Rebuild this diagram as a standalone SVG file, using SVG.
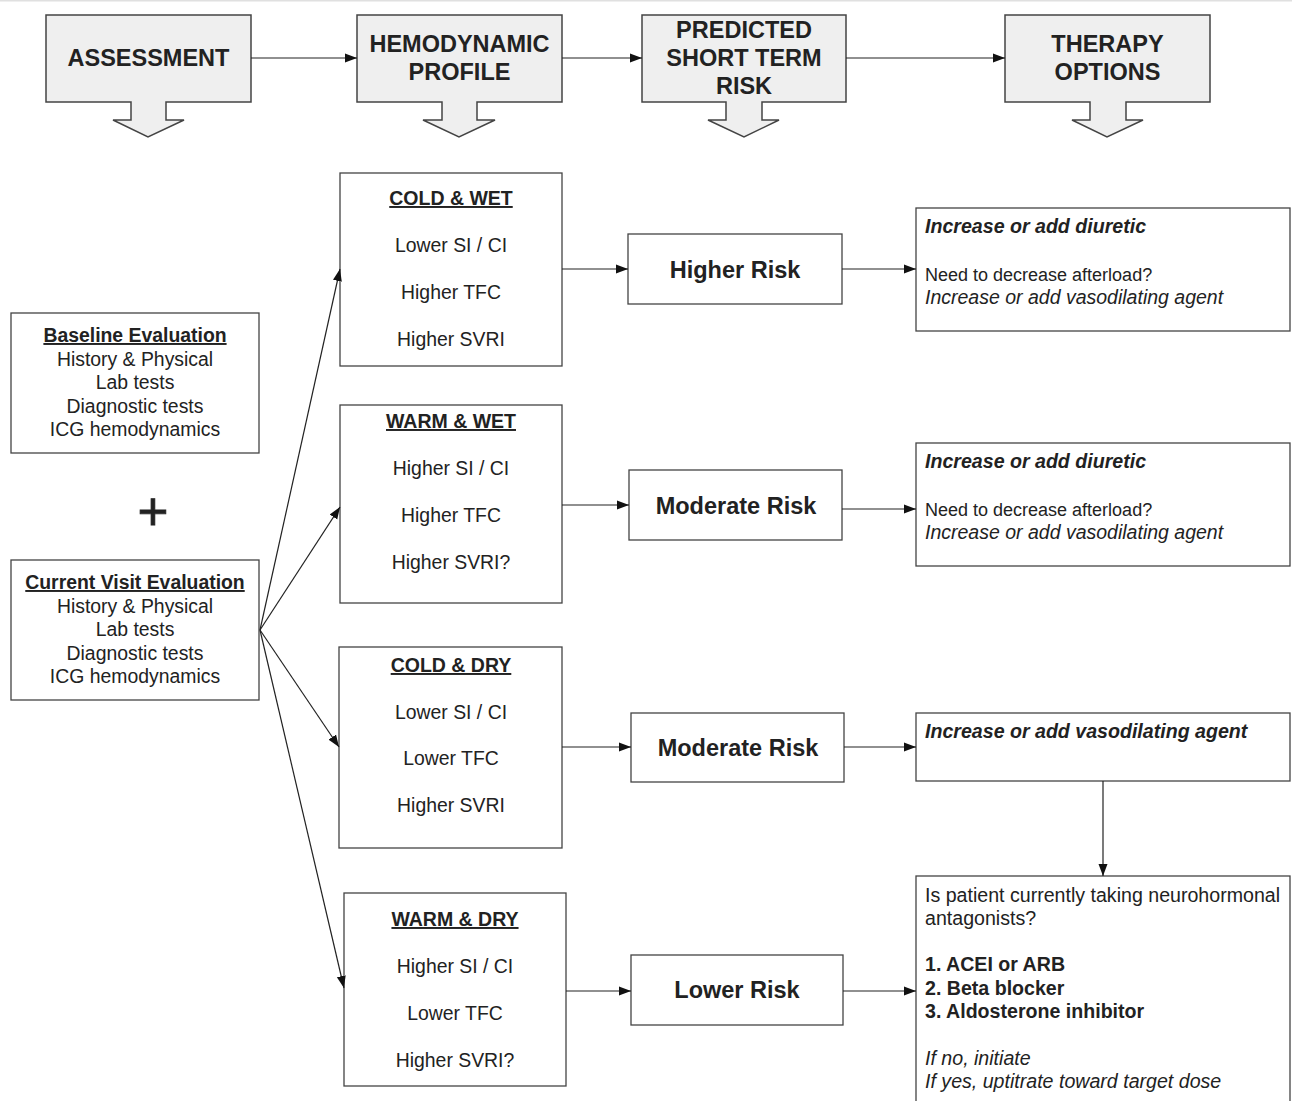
<svg xmlns="http://www.w3.org/2000/svg" width="1292" height="1101" viewBox="0 0 1292 1101">
<defs>
<style>
text{font-family:"Liberation Sans",Arial,sans-serif;fill:#222;}
.hdr{fill:#efefef;stroke:#444;stroke-width:1.5;}
.box{fill:#fff;stroke:#444;stroke-width:1.3;}
.ht{font-size:23.5px;font-weight:bold;text-anchor:middle;}
.pt{font-size:19.4px;text-anchor:middle;}
.pb{font-size:19.5px;font-weight:bold;text-anchor:middle;text-decoration:underline;}
.rt{font-size:23.5px;font-weight:bold;text-anchor:middle;}
.tt{font-size:18px;}
.t4{font-size:19.6px;}
.bi{font-size:19.6px;font-weight:bold;font-style:italic;}
.it{font-size:19.5px;font-style:italic;}
.b{font-weight:bold;}
.i4{font-style:italic;}
.lt{font-size:19.4px;text-anchor:middle;}
.con{stroke:#222;stroke-width:1.2;fill:none;marker-end:url(#ah);}
</style>
<marker id="ah" viewBox="0 0 12 10" refX="12" refY="5" markerWidth="12" markerHeight="10" markerUnits="userSpaceOnUse" orient="auto">
<path d="M0,0.5 L12,5 L0,9.5 Z" fill="#111"/>
</marker>
</defs>
<rect x="0" y="0" width="1292" height="1101" fill="#fff"/>
<rect x="0" y="0" width="1292" height="1.5" fill="#e0e0e0"/>

<g id="hdr-assessment">
<path class="hdr" d="M46,15 H251 V102 H166 V120 H184 L148,137 L113,120 H131 V102 H46 Z"/>
<text class="ht" x="148.5" y="66">ASSESSMENT</text>
</g>
<g id="hdr-hemodynamic">
<path class="hdr" d="M357,15 H562 V102 H477 V120 H495 L459,137 L423,120 H442 V102 H357 Z"/>
<text class="ht" x="459.5" y="52">HEMODYNAMIC</text>
<text class="ht" x="459.5" y="80">PROFILE</text>
</g>
<g id="hdr-risk">
<path class="hdr" d="M642,15 H846 V102 H762 V120 H779 L744,137 L708,120 H726 V102 H642 Z"/>
<text class="ht" x="744" y="38">PREDICTED</text>
<text class="ht" x="744" y="66">SHORT TERM</text>
<text class="ht" x="744" y="94">RISK</text>
</g>
<g id="hdr-therapy">
<path class="hdr" d="M1005,15 H1210 V102 H1126 V120 H1143 L1107,137 L1072,120 H1090 V102 H1005 Z"/>
<text class="ht" x="1107.5" y="52">THERAPY</text>
<text class="ht" x="1107.5" y="80">OPTIONS</text>
</g>

<g id="baseline">
<rect class="box" x="11" y="313" width="248" height="140"/>
<text class="lt" x="135" y="342"><tspan font-weight="bold" text-decoration="underline">Baseline Evaluation</tspan></text>
<text class="lt" x="135" y="366">History &amp; Physical</text>
<text class="lt" x="135" y="389">Lab tests</text>
<text class="lt" x="135" y="413">Diagnostic tests</text>
<text class="lt" x="135" y="436">ICG hemodynamics</text>
</g>
<g id="plus">
<text x="153" y="530" font-size="53" text-anchor="middle" stroke="#222" stroke-width="0.8">+</text>
</g>
<g id="current">
<rect class="box" x="11" y="560" width="248" height="140"/>
<text class="lt" x="135" y="589"><tspan font-weight="bold" text-decoration="underline">Current Visit Evaluation</tspan></text>
<text class="lt" x="135" y="613">History &amp; Physical</text>
<text class="lt" x="135" y="636">Lab tests</text>
<text class="lt" x="135" y="660">Diagnostic tests</text>
<text class="lt" x="135" y="683">ICG hemodynamics</text>
</g>

<g id="cold-wet">
<rect class="box" x="340" y="173" width="222" height="193"/>
<text class="pb" x="451" y="205">COLD &amp; WET</text>
<text class="pt" x="451" y="252">Lower SI / CI</text>
<text class="pt" x="451" y="299">Higher TFC</text>
<text class="pt" x="451" y="346">Higher SVRI</text>
</g>
<g id="warm-wet">
<rect class="box" x="340" y="405" width="222" height="198"/>
<text class="pb" x="451" y="428">WARM &amp; WET</text>
<text class="pt" x="451" y="475">Higher SI / CI</text>
<text class="pt" x="451" y="522">Higher TFC</text>
<text class="pt" x="451" y="569">Higher SVRI?</text>
</g>
<g id="cold-dry">
<rect class="box" x="339" y="647" width="223" height="201"/>
<text class="pb" x="451" y="672">COLD &amp; DRY</text>
<text class="pt" x="451" y="719">Lower SI / CI</text>
<text class="pt" x="451" y="765">Lower TFC</text>
<text class="pt" x="451" y="812">Higher SVRI</text>
</g>
<g id="warm-dry">
<rect class="box" x="344" y="893" width="222" height="193"/>
<text class="pb" x="455" y="926">WARM &amp; DRY</text>
<text class="pt" x="455" y="973">Higher SI / CI</text>
<text class="pt" x="455" y="1020">Lower TFC</text>
<text class="pt" x="455" y="1067">Higher SVRI?</text>
</g>

<g id="risk-higher">
<rect class="box" x="628" y="234" width="214" height="70"/>
<text class="rt" x="735" y="278">Higher Risk</text>
</g>
<g id="risk-moderate-1">
<rect class="box" x="629" y="470" width="213" height="70"/>
<text class="rt" x="736" y="514">Moderate Risk</text>
</g>
<g id="risk-moderate-2">
<rect class="box" x="631" y="713" width="213" height="69"/>
<text class="rt" x="738" y="756">Moderate Risk</text>
</g>
<g id="risk-lower">
<rect class="box" x="631" y="955" width="212" height="70"/>
<text class="rt" x="737" y="998">Lower Risk</text>
</g>

<g id="therapy-1">
<rect class="box" x="916" y="208" width="374" height="123"/>
<text class="bi" x="925" y="233">Increase or add diuretic</text>
<text class="tt" x="925" y="281">Need to decrease afterload?</text>
<text class="it" x="925" y="304">Increase or add vasodilating agent</text>
</g>
<g id="therapy-2">
<rect class="box" x="916" y="443" width="374" height="123"/>
<text class="bi" x="925" y="468">Increase or add diuretic</text>
<text class="tt" x="925" y="516">Need to decrease afterload?</text>
<text class="it" x="925" y="539">Increase or add vasodilating agent</text>
</g>
<g id="therapy-3">
<rect class="box" x="916" y="713" width="374" height="68"/>
<text class="bi" x="925" y="738">Increase or add vasodilating agent</text>
</g>
<g id="therapy-4">
<rect class="box" x="916" y="876" width="374" height="240"/>
<text class="t4" x="925" y="902">Is patient currently taking neurohormonal</text>
<text class="t4" x="925" y="925">antagonists?</text>
<text class="t4 b" x="925" y="971">1. ACEI or ARB</text>
<text class="t4 b" x="925" y="995">2. Beta blocker</text>
<text class="t4 b" x="925" y="1018">3. Aldosterone inhibitor</text>
<text class="t4 i4" x="925" y="1065">If no, initiate</text>
<text class="t4 i4" x="925" y="1088">If yes, uptitrate toward target dose</text>
</g>

<g id="connectors">
<line class="con" x1="251" y1="58" x2="357" y2="58"/>
<line class="con" x1="562" y1="58" x2="642" y2="58"/>
<line class="con" x1="846" y1="58" x2="1005" y2="58"/>
<line class="con" x1="260" y1="630" x2="340" y2="269"/>
<line class="con" x1="260" y1="630" x2="340" y2="507"/>
<line class="con" x1="260" y1="630" x2="339" y2="747"/>
<line class="con" x1="260" y1="630" x2="344" y2="988"/>
<line class="con" x1="562" y1="269" x2="628" y2="269"/>
<line class="con" x1="562" y1="505" x2="629" y2="505"/>
<line class="con" x1="562" y1="747" x2="631" y2="747"/>
<line class="con" x1="566" y1="991" x2="631" y2="991"/>
<line class="con" x1="842" y1="269" x2="916" y2="269"/>
<line class="con" x1="842" y1="509" x2="916" y2="509"/>
<line class="con" x1="844" y1="747" x2="916" y2="747"/>
<line class="con" x1="843" y1="991" x2="916" y2="991"/>
<line class="con" x1="1103" y1="781" x2="1103" y2="876"/>
</g>
</svg>
